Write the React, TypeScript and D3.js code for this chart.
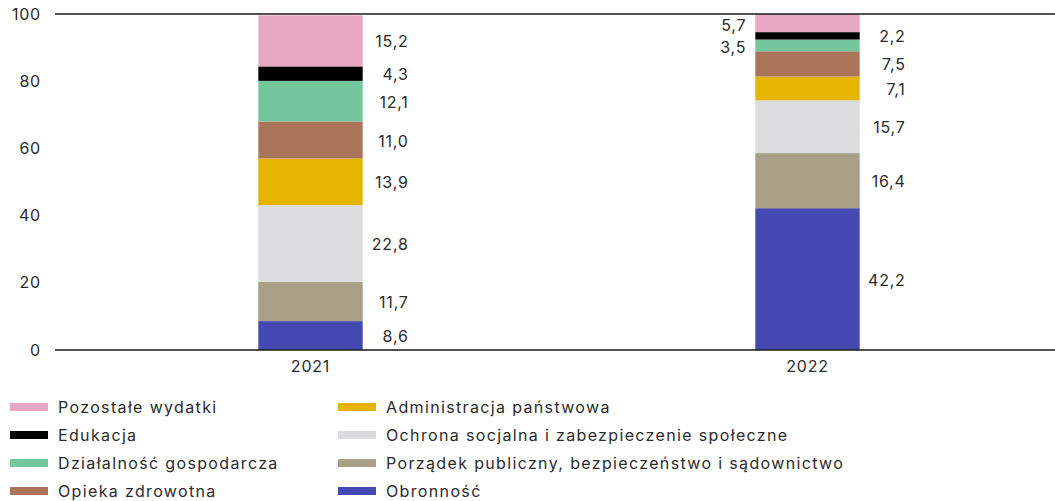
import React, { useEffect, useRef } from 'react';
import * as d3 from 'd3';

// categories, bottom to top in the stack
const categories = [
  'Obronność',
  'Porządek publiczny, bezpieczeństwo i sądownictwo',
  'Ochrona socjalna i zabezpieczenie społeczne',
  'Administracja państwowa',
  'Opieka zdrowotna',
  'Działalność gospodarcza',
  'Edukacja',
  'Pozostałe wydatki',
];
const colors = ['#4349b0', '#a89f87', '#dcdcde', '#e5b300', '#a97458', '#74c69d', '#000000', '#e8a7c2'];
const years = ['2021', '2022'];
const values2021 = [8.6, 11.7, 22.8, 13.9, 11.0, 12.1, 4.3, 15.2];
const values2022 = [42.2, 16.4, 15.7, 7.1, 7.5, 3.5, 2.2, 5.7];
// small segments in 2022 get their label on the left side
const leftLabels2022 = ['Pozostałe wydatki', 'Działalność gospodarcza'];
const yTicks = [0, 20, 40, 60, 80, 100];
// legend order: two columns, top to bottom
const legendCol1 = ['Pozostałe wydatki', 'Edukacja', 'Działalność gospodarcza', 'Opieka zdrowotna'];
const legendCol2 = [
  'Administracja państwowa',
  'Ochrona socjalna i zabezpieczenie społeczne',
  'Porządek publiczny, bezpieczeństwo i sądownictwo',
  'Obronność',
];

export default function App() {
  const ref = useRef<SVGSVGElement>(null);

  useEffect(() => {
    const svg = d3.select(ref.current);
    svg.selectAll('*').remove();
    const font = 'Inter, "Noto Sans", sans-serif';
    const textColor = '#2b2b2b';

    const x = d3.scaleBand().domain(years).range([62, 1056]).paddingInner(0.79).paddingOuter(0.395);
    const y = d3.scaleLinear().domain([0, 100]).range([350, 14]);
    const color = d3.scaleOrdinal<string, string>().domain(categories).range(colors);

    const rows = years.map((yr, i) => {
      const vals = i === 0 ? values2021 : values2022;
      const r: any = { year: yr };
      categories.forEach((c, j) => (r[c] = vals[j]));
      return r;
    });
    const series = d3.stack().keys(categories)(rows);

    // bars
    series.forEach((s) => {
      svg.append('g')
        .selectAll('rect')
        .data(s)
        .enter()
        .append('rect')
        .attr('x', (d: any) => x(d.data.year)!)
        .attr('width', x.bandwidth())
        .attr('y', (d) => y(Math.min(d[1], 100)))
        .attr('height', (d) => y(d[0]) - y(Math.min(d[1], 100)))
        .attr('fill', color(s.key));
    });

    // value labels
    series.forEach((s) => {
      s.forEach((d: any) => {
        const yr = d.data.year;
        const v = d.data[s.key] as number;
        const left = yr === '2022' && leftLabels2022.includes(s.key);
        const mid = y((d[0] + Math.min(d[1], 100)) / 2);
        svg.append('text')
          .attr('x', left ? x(yr)! - 9 : x(yr)! + x.bandwidth() + 46)
          .attr('y', mid + (left ? 2 : 1))
          .attr('dy', '0.35em')
          .attr('text-anchor', 'end')
          .attr('font-family', font)
          .attr('font-size', 16)
          .attr('letter-spacing', 0.8)
          .attr('fill', textColor)
          .text(d3.format('.1f')(v).replace('.', ','));
      });
    });

    // top and bottom lines
    [100, 0].forEach((v) => {
      svg.append('line')
        .attr('x1', 55)
        .attr('x2', 1055)
        .attr('y1', y(v))
        .attr('y2', y(v))
        .attr('stroke', '#1a1a1a')
        .attr('stroke-width', 1.3);
    });

    // y axis labels
    svg.append('g')
      .selectAll('text')
      .data(yTicks)
      .enter()
      .append('text')
      .attr('x', 41)
      .attr('y', (d) => y(d))
      .attr('dy', '0.35em')
      .attr('text-anchor', 'end')
      .attr('font-family', font)
      .attr('font-size', 16)
      .attr('letter-spacing', 0.8)
      .attr('fill', textColor)
      .text((d) => d);

    // x axis labels
    svg.append('g')
      .selectAll('text')
      .data(years)
      .enter()
      .append('text')
      .attr('x', (d) => x(d)! + x.bandwidth() / 2)
      .attr('y', 366)
      .attr('dy', '0.35em')
      .attr('text-anchor', 'middle')
      .attr('font-family', font)
      .attr('font-size', 16)
      .attr('letter-spacing', 0.8)
      .attr('fill', textColor)
      .text((d) => d);

    // legend
    const legendCols = [
      { items: legendCol1, x: 10 },
      { items: legendCol2, x: 338 },
    ];
    legendCols.forEach((col) => {
      col.items.forEach((name, i) => {
        const ly = 407 + i * 28;
        svg.append('rect')
          .attr('x', col.x)
          .attr('y', ly - 4)
          .attr('width', 38)
          .attr('height', 8)
          .attr('fill', color(name));
        svg.append('text')
          .attr('x', col.x + 48)
          .attr('y', ly)
          .attr('dy', '0.35em')
          .attr('font-family', font)
          .attr('font-size', 16)
          .attr('letter-spacing', 1.35)
          .attr('fill', textColor)
          .text(name);
      });
    });
  }, []);

  return (
    <div style={{ position: 'absolute', left: 0, top: 0 }}>
      <svg ref={ref} width={1055} height={501} style={{ display: 'block' }} />
    </div>
  );
}
